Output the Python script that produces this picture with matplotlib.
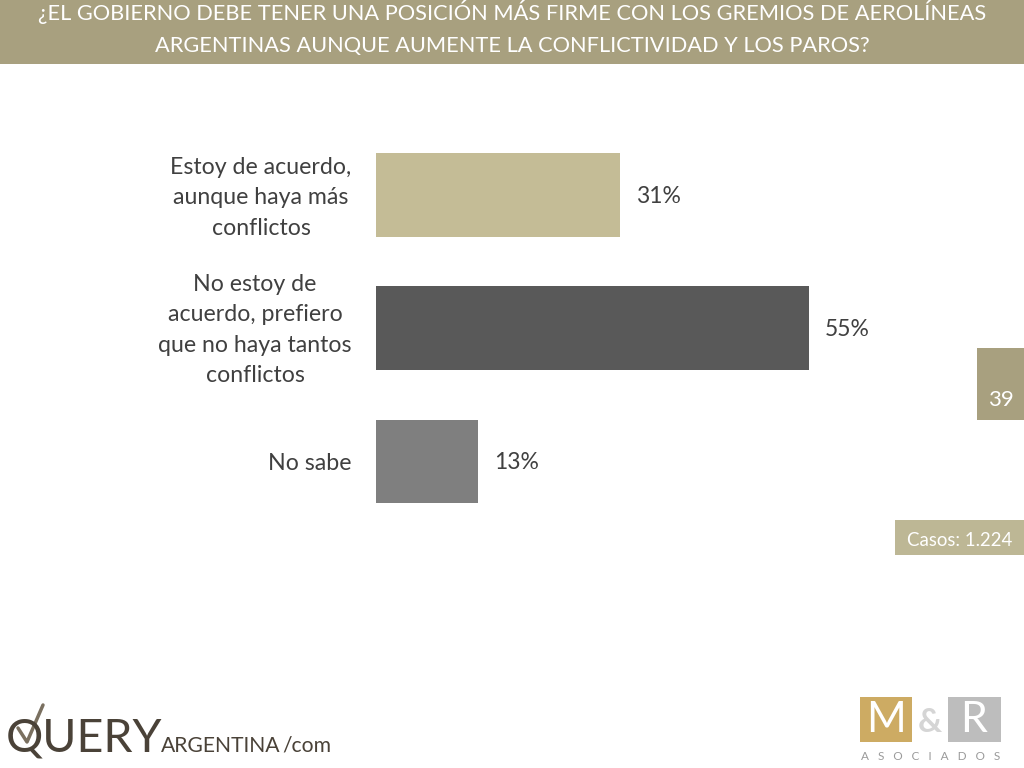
import matplotlib
matplotlib.use("Agg")
import matplotlib.pyplot as plt
from matplotlib.patches import Rectangle
from matplotlib.transforms import ScaledTranslation

categories = ["Estoy de acuerdo,\naunque haya más\nconflictos",
              "No estoy de\nacuerdo, prefiero\nque no haya tantos\nconflictos",
              "No sabe"]
values = [31, 55, 13]
value_labels = ["31%", "55%", "13%"]
colors = ["#C4BC96", "#595959", "#7F7F7F"]
title_lines = "¿EL GOBIERNO DEBE TENER UNA POSICIÓN MÁS FIRME CON LOS GREMIOS DE AEROLÍNEAS\nARGENTINAS AUNQUE AUMENTE LA CONFLICTIVIDAD Y LOS PAROS?"
page = "39"
cases = "Casos: 1.224"

plt.rcParams['font.family'] = ['Open Sans', 'DejaVu Sans']
W, H = 1024, 768
fig = plt.figure(figsize=(W/100, H/100), dpi=100, facecolor="white")

# full-figure pixel overlay
ov = fig.add_axes([0, 0, 1, 1], zorder=0)
ov.set_xlim(0, W); ov.set_ylim(H, 0); ov.axis("off")
BAND = "#A8A07F"
ov.add_patch(Rectangle((0, 0), W, 63.5, fc=BAND, ec="none"))
ov.text(512, 28, title_lines, ha="center", va="center", color="white",
        fontsize=15.7, family="Lato", linespacing=1.8)
ov.add_patch(Rectangle((977, 348), 47, 72, fc=BAND, ec="none"))
ov.text(1000.5, 400, page, ha="center", va="center", color="white", fontsize=16, family="Lato")
ov.add_patch(Rectangle((895, 520), 129, 35, fc="#BDB795", ec="none"))
ov.text(959.5, 540, cases, ha="center", va="center", color="white", fontsize=13.4, family="Lato")

# chart
ax = fig.add_axes([376/W, 1-540/H, 624/W, 420/H], zorder=1)
ax.patch.set_alpha(0)
ax.set_xlim(0, 624/7.87)
ax.set_ylim((540-195)/133.25, (120-195)/133.25)
pos = list(range(len(values)))
ax.barh(pos, values, height=0.63, color=colors)
ax.set_yticks(pos)
ax.set_yticklabels(categories, multialignment="center", fontsize=16.7, color="#404040",
                   family="Lato", linespacing=1.55)
ax.tick_params(axis="y", length=0, pad=17.5)
ax.set_xticks([])
for lab, dy in zip(ax.get_yticklabels(), [4, 5, 0]):
    lab.set_transform(lab.get_transform() + ScaledTranslation(0, dy*0.72/72*100/100, fig.dpi_scale_trans))
for s in ax.spines.values():
    s.set_visible(False)
for y, v, lab in zip(pos, values, value_labels):
    ax.annotate(lab, (v, y), xytext=(11.5, -1), textcoords="offset points", ha="left", va="center",
                fontsize=16.5, color="#404040", family="Lato")

# QUERY logo
DK = "#4A4238"
ov.text(6, 752, "QUERY", ha="left", va="baseline", color=DK, fontsize=33.5, family="Lato")
ov.text(161, 752, "ARGENTINA", ha="left", va="baseline", color=DK, fontsize=15.2, family="Lato")
ov.text(282, 752, "/com", ha="left", va="baseline", color=DK, fontsize=15.2, family="Lato")
ov.plot([18, 27, 43], [728, 742, 705], color="#7A7060", lw=2.5, solid_capstyle="round")

# M&R logo
ov.add_patch(Rectangle((860, 697), 52, 45, fc="#CDAB63", ec="none"))
ov.add_patch(Rectangle((948, 697), 53, 45, fc="#BDBDBD", ec="none"))
ov.text(886, 720, "M", ha="center", va="center", color="white", fontsize=31, family="Lato")
ov.text(930, 722, "&", ha="center", va="center", color="#D5D5D5", fontsize=24, family="Lato", fontweight="bold")
ov.text(974, 720, "R", ha="center", va="center", color="white", fontsize=31, family="Lato")
ov.text(931, 757, "A   S   O   C   I   A   D   O   S", ha="center", va="center", color="#9A9A9A",
        fontsize=8.5, family="Lato")

fig.savefig("out.png", dpi=100)
